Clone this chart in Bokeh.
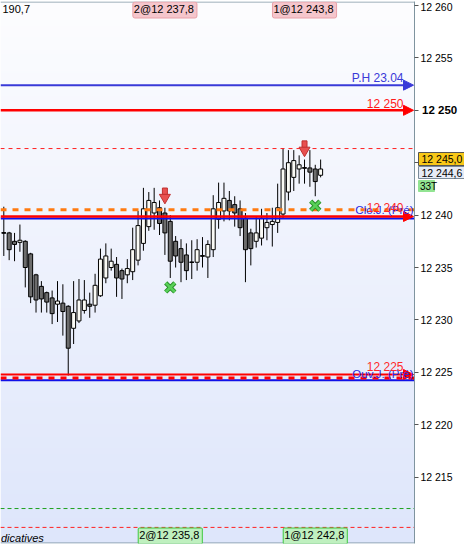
import numpy as np
from bokeh.plotting import figure
from bokeh.models import (Range1d, FixedTicker, Span, Arrow, NormalHead, Label,
                          Div, ColumnDataSource)
from bokeh.layouts import row
from bokeh.embed import file_html
from bokeh.resources import INLINE

# ---------------- data ----------------
opens = [12238.3, 12238.3, 12237.5, 12237.4, 12237.5, 12236.3, 12234.3, 12233.2, 12232.6, 12232.1,
         12231.5, 12231.6, 12231.3, 12229.2, 12229.9, 12230.9, 12231.5, 12231.4, 12232.3, 12234.0,
         12235.0, 12235.3, 12234.7, 12234.3, 12234.6, 12235.7, 12237.3, 12238.9, 12240.2, 12240.7,
         12240.2, 12239.4, 12237.5, 12236.8, 12236.2, 12235.5, 12235.5, 12236.1, 12236.0, 12236.7,
         12239.6, 12240.4, 12241.4, 12241.0, 12240.6, 12239.7, 12238.3, 12237.5, 12237.8, 12238.8,
         12239.1, 12239.3, 12240.1, 12242.2, 12243.6, 12244.4, 12244.5, 12244.5, 12244.4, 12243.8]
highs = [12240.8, 12238.4, 12238.3, 12239.1, 12237.6, 12236.4, 12234.4, 12233.7, 12232.7, 12232.8,
         12233.7, 12233.4, 12231.4, 12233.7, 12233.9, 12233.8, 12232.6, 12234.4, 12236.8, 12237.3,
         12236.8, 12236.0, 12234.9, 12235.8, 12238.8, 12240.4, 12242.6, 12242.2, 12242.6, 12241.4,
         12240.7, 12240.0, 12238.0, 12237.7, 12237.3, 12237.6, 12237.7, 12237.9, 12237.6, 12241.9,
         12243.1, 12243.1, 12242.3, 12241.8, 12241.4, 12240.2, 12238.7, 12239.8, 12240.6, 12240.2,
         12240.7, 12243.0, 12246.4, 12246.2, 12246.2, 12245.7, 12245.3, 12246.2, 12244.8, 12245.3]
lows = [12236.1, 12235.7, 12235.6, 12236.5, 12233.1, 12231.6, 12230.7, 12230.7, 12230.7, 12229.6,
        12229.8, 12228.5, 12224.7, 12227.7, 12229.7, 12230.6, 12230.2, 12230.7, 12232.2, 12233.5,
        12234.7, 12232.2, 12232.0, 12233.5, 12233.8, 12235.2, 12236.6, 12238.5, 12238.6, 12238.1,
        12236.2, 12234.0, 12235.0, 12233.6, 12233.8, 12233.9, 12234.7, 12235.0, 12234.0, 12236.0,
        12238.7, 12239.4, 12239.5, 12238.9, 12238.0, 12233.6, 12235.2, 12236.9, 12237.1, 12237.6,
        12237.0, 12238.3, 12239.7, 12241.4, 12242.3, 12243.0, 12243.0, 12242.7, 12241.8, 12243.6]
closes = [12238.3, 12236.7, 12237.2, 12237.6, 12235.0, 12232.2, 12231.9, 12232.0, 12231.7, 12230.6,
          12231.8, 12230.8, 12227.3, 12230.7, 12231.9, 12231.9, 12231.3, 12233.3, 12235.8, 12236.1,
          12235.6, 12234.0, 12233.9, 12234.9, 12236.7, 12239.0, 12240.6, 12241.4, 12241.2, 12239.2,
          12238.3, 12235.6, 12236.1, 12235.5, 12234.7, 12235.5, 12236.7, 12236.1, 12237.2, 12240.6,
          12241.2, 12241.6, 12240.4, 12240.2, 12238.8, 12236.7, 12236.8, 12238.3, 12239.7, 12239.3,
          12239.4, 12240.7, 12244.4, 12245.0, 12245.2, 12244.8, 12244.5, 12244.1, 12243.2, 12244.4]

level_ph = 12252.4            # P.H 23.04
level_target = 12250.0        # 12 250
level_high_dash = 12246.35
level_orange = 12240.5
level_close_red = 12239.87    # 12 240
level_close_blue = 12239.68   # Clo.J. (Pré)
level_open_red = 12224.79     # 12 225
level_open_dash = 12224.46
level_open_blue = 12224.25    # Ouv.J. (Pré)
level_green = 12212.0
level_red_low = 12210.2

sell_idx = [31, 57]
sell_tip = [12241.2, 12245.7]
sell_text = ["2@12 237,8", "1@12 243,8"]
buy_idx = [32, 59]
buy_mark = [12233.1, 12240.9]
buy_text = ["2@12 235,8", "1@12 242,8"]

y_ticks = [12215, 12220, 12225, 12230, 12235, 12240, 12245, 12250, 12255, 12260]
last_price = "12 245,0"
bid_price = "12 244,6"
timer_text = "33T"
corner_text = "190,7"
footer_text = "dicatives"

# ---------------- layout helpers ----------------
def ix(xr):                      # pixel x -> candle index
    return 1 + (xr - 3.3) / 5.37

def py(yr):                      # pixel y -> price
    return 12260 - (yr - 5) / 10.48

PW, AW, H = 414, 50, 544
X0, X1 = ix(0), ix(PW)
Y0, Y1 = py(543), py(1)
PXU = 10.48
FONT = "Liberation Sans"

p = figure(width=PW, height=H, x_range=Range1d(X0, X1), y_range=Range1d(Y0, Y1),
           output_backend="svg", toolbar_location=None, x_axis_location=None,
           y_axis_location=None, min_border_left=0, min_border_right=0,
           min_border_top=1, min_border_bottom=1)
p.grid.visible = False
p.outline_line_color = None
p.border_fill_color = "white"

# background gradient
N = 256
top_rgb = np.array([253, 253, 255], dtype=float)
bot_rgb = np.array([222, 230, 251], dtype=float)
t = np.linspace(0, 1, N)[:, None]
cols = (bot_rgb * (1 - t) + top_rgb * t).astype(np.uint8)
img = np.empty((N, 1), dtype=np.uint32)
view = img.view(dtype=np.uint8).reshape((N, 1, 4))
view[:, 0, 0:3] = cols
view[:, 0, 3] = 255
p.image_rgba(image=[img], x=X0, y=Y0, dw=X1 - X0, dh=Y1 - Y0, level="image")

# frame borders (top / bottom)
for loc in (py(1.5), py(542.5)):
    p.add_layout(Span(location=loc, dimension="width", line_color="#8096a4", line_width=1))

# candles
idx = list(range(1, len(opens) + 1))
src = ColumnDataSource(dict(
    x=idx, h=highs, l=lows,
    top=[max(o, c) for o, c in zip(opens, closes)],
    bot=[min(o, c) for o, c in zip(opens, closes)],
    fill=["#fafaf5" if c >= o else "#6c6c6c" for o, c in zip(opens, closes)],
))
p.segment("x", "h", "x", "l", source=src, line_color="black", line_width=1)
p.vbar(x="x", width=0.74, top="top", bottom="bot", fill_color="fill",
       line_color="black", line_width=1, source=src)
doji_x = [i for i, o, c in zip(idx, opens, closes) if abs(o - c) < 0.05]
doji_y = [o for o, c in zip(opens, closes) if abs(o - c) < 0.05]
p.segment([x - 0.42 for x in doji_x], doji_y, [x + 0.42 for x in doji_x], doji_y,
          line_color="black", line_width=1.2)

# horizontal levels
def span(loc, col, w, dash="solid"):
    p.add_layout(Span(location=loc, dimension="width", line_color=col,
                      line_width=w, line_dash=dash))

def arrow_line(loc, col, w):
    p.add_layout(Arrow(end=NormalHead(size=10, fill_color=col, line_color=col, line_width=1),
                       x_start=X0, y_start=loc, x_end=ix(413), y_end=loc,
                       line_color=col, line_width=w))

span(level_high_dash, "#ff2020", 1, "4 4")
span(level_orange, "#ff7a10", 3, "6 6")
span(level_close_blue, "#1010e8", 2)
arrow_line(level_close_red, "#ff0000", 2.5)
arrow_line(level_ph, "#3a3ad8", 2)
arrow_line(level_target, "#ff0000", 2.5)
span(level_open_blue, "#1010e8", 2)
span(level_open_dash, "#ff0000", 3, "6 6")
arrow_line(level_open_red, "#ff0000", 2)
span(level_green, "#1ea01e", 1, "4 3")
span(level_red_low, "#ff2020", 1, "4 3")

# signals
sell_head = [v + 5.0 / PXU for v in sell_tip]
sell_stem = [v + 11.0 / PXU for v in sell_tip]
r1 = p.rect(sell_idx, sell_stem, width=5, height=7, width_units="screen", height_units="screen",
            fill_color="#e85050", line_color="#c03030", line_width=1)
r2 = p.scatter(sell_idx, sell_head, marker="inverted_triangle", size=11,
               fill_color="#e85050", line_color="#c03030", line_width=1)
b1 = p.scatter(buy_idx, buy_mark, marker="x", size=13, line_color="#2a8f2a", line_width=4.5)
b2 = p.scatter(buy_idx, buy_mark, marker="x", size=13, line_color="#58d058", line_width=2.5)
for r in (r1, r2, b1, b2):
    r.level = "overlay"

# text helpers
def lab(fig, x, y, text, color="black", size="12px", align="right", style="normal", **kw):
    fig.add_layout(Label(x=x, y=y, text=text, text_color=color, text_font=FONT,
                         text_font_size=size, text_align=align, text_baseline="middle",
                         text_font_style=style, **kw))

lab(p, ix(403), py(77.5), "P.H 23.04", color="#3a3ad8")
lab(p, ix(403), py(103.5), "12 250", color="#ff1a1a")
lab(p, ix(413), py(209), "Clo.J. (Pré)", color="#2a2ae0", size="11.5px")
lab(p, ix(403), py(207.5), "12 240", color="#ff2a2a")
lab(p, ix(413), py(373), "Ouv.J. (Pré)", color="#2a2ae0", size="11.5px")
lab(p, ix(403), py(366.5), "12 225", color="#ff2a2a")

lab(p, ix(2), py(8), corner_text, size="11px", align="left")
lab(p, ix(0.5), py(537), footer_text, size="11px", align="left", style="italic")

for i, t_ in zip(sell_idx, sell_text):
    lab(p, i, py(9.5), t_, size="11px", align="center",
        background_fill_color="#f5c6cc", border_line_color="#e8a0a8",
        padding=(1, 3, 1, 3), border_radius=2)
for i, t_ in zip(buy_idx, buy_text):
    lab(p, i, py(535.5), t_, size="11px", align="center",
        background_fill_color="#bff0bf", border_line_color="#40c840",
        padding=(1, 3, 1, 3), border_radius=1)

# ---------------- price-axis panel ----------------
def qx(xr):
    return xr - PW

q = figure(width=AW, height=H, x_range=Range1d(0, AW), y_range=p.y_range,
           output_backend="svg", toolbar_location=None, x_axis_location=None,
           y_axis_location="left", min_border_left=0, min_border_right=0,
           min_border_top=1, min_border_bottom=1)
q.grid.visible = False
q.outline_line_color = None
q.background_fill_color = "white"
q.border_fill_color = "white"

ax = q.yaxis[0]
ax.ticker = FixedTicker(ticks=y_ticks)
overrides = {v: f"{v // 1000} {v % 1000:03d}" for v in y_ticks}
overrides[12250] = ""
overrides[12245] = ""
ax.major_label_overrides = overrides
ax.major_tick_out = 0
ax.major_tick_in = 4
ax.minor_tick_line_color = None
ax.axis_line_color = "#7f949f"
ax.major_tick_line_color = "#555555"
ax.major_label_standoff = -38
ax.major_label_text_font = FONT
ax.major_label_text_font_size = "10.5px"
ax.major_label_text_color = "black"

q.quad(left=[qx(418), qx(418), qx(418)], right=[qx(465), qx(464), qx(434)],
       top=[py(152), py(166), py(180)], bottom=[py(165), py(178), py(191)],
       fill_color=["#f8c818", "#e6ebf6", "#92e492"],
       line_color=["#555555", "#7a8a99", "#92e492"], line_width=1)
lab(q, qx(421), py(158.5), last_price, size="10.5px", align="left")
lab(q, qx(421), py(172), bid_price, size="10.5px", align="left")
lab(q, qx(419.5), py(185.5), timer_text, size="10px", align="left")
lab(q, qx(421.5), level_target, "12 250", size="11.5px", align="left", style="bold")

bar = Div(width=4, height=H, styles={"background-color": "#a3b5c3"})
layout = row(p, q, bar)

open("out.html", "w").write(file_html(layout, INLINE))
